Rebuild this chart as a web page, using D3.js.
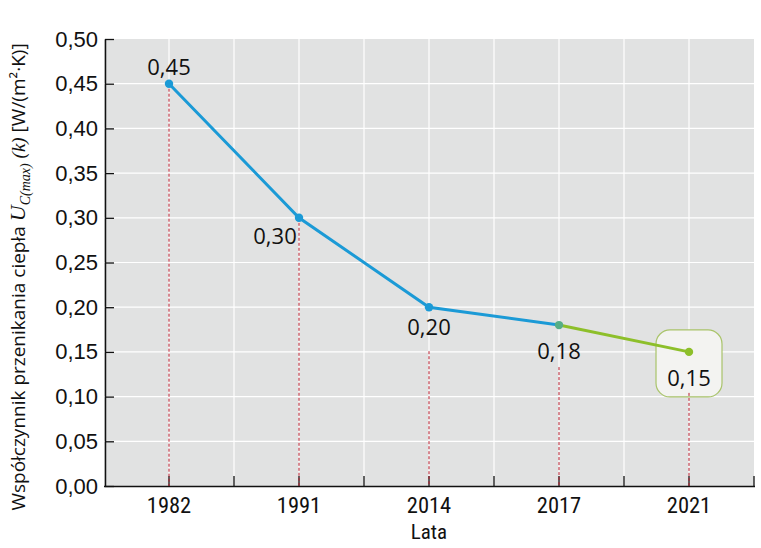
<!DOCTYPE html>
<html><head><meta charset="utf-8">
<script src="https://cdn.jsdelivr.net/npm/d3@7"></script>
<style>body{margin:0;background:#fff}</style>
</head><body>
<script>
const years = ["1982","1991","2014","2017","2021"];
const values = [0.45, 0.30, 0.20, 0.18, 0.15];
const historicYears = ["1982","1991","2014","2017"];
const historicValues = [0.45, 0.30, 0.20, 0.18];
const plannedYears = ["2017","2021"];
const plannedValues = [0.18, 0.15];
const yTickValues = [0,0.05,0.10,0.15,0.20,0.25,0.30,0.35,0.40,0.45,0.50];
const xTitle = "Lata";

const W = 761, H = 548;
const svg = d3.select("body").append("svg").attr("width", W).attr("height", H);
const x = d3.scaleBand().domain(years).range([104, 754]).paddingInner(0).paddingOuter(0);
const y = d3.scaleLinear().domain([0, 0.5]).range([486, 39]);
const fmt = v => d3.format(".2f")(v).replace(".", ",");
const cx = d => x(d) + x.bandwidth() / 2;

// background
svg.append("rect").attr("x", 104).attr("y", y(0.5)).attr("width", 754 - 104).attr("height", y(0) - y(0.5)).attr("fill", "#e1e2e2");

// grid
const vgrid = [];
years.forEach((d, i) => { vgrid.push(cx(d)); if (i > 0) vgrid.push(x(d)); });
svg.append("g").selectAll("line").data(vgrid).join("line")
  .attr("x1", d => d).attr("x2", d => d).attr("y1", y(0.5)).attr("y2", y(0))
  .attr("stroke", "#fff").attr("stroke-width", 1.2);
svg.append("g").selectAll("line").data(yTickValues.filter(v => v > 0 && v < 0.5)).join("line")
  .attr("x1", 104).attr("x2", 754).attr("y1", d => y(d)).attr("y2", d => y(d))
  .attr("stroke", "#fff").attr("stroke-width", 1.2);

// axes
const yAxis = d3.axisLeft(y).tickValues(yTickValues).tickFormat(fmt).tickSizeInner(-9).tickSizeOuter(0).tickPadding(7);
const gy = svg.append("g").attr("transform", "translate(105,0)").call(yAxis);
gy.select(".domain").attr("stroke", "#111").attr("stroke-width", 1.5);
gy.selectAll(".tick line").attr("stroke", "#111").attr("stroke-width", 1.3);
gy.selectAll("text").attr("font-family", "Liberation Sans, Arial, sans-serif").attr("font-size", 22).attr("fill", "#111");

const tickPos = [];
years.forEach((d, i) => { tickPos.push(x(d)); tickPos.push(cx(d)); });
tickPos.push(754);
const gx = svg.append("g");
gx.append("line").attr("x1", 104).attr("x2", 755).attr("y1", 486.5).attr("y2", 486.5).attr("stroke", "#111").attr("stroke-width", 1.5);
gx.selectAll("line.t").data(tickPos.slice(1)).join("line").attr("class", "t")
  .attr("x1", d => d).attr("x2", d => d).attr("y1", 486).attr("y2", 476)
  .attr("stroke", "#111").attr("stroke-width", 1.3);
gx.selectAll("text").data(years).join("text")
  .attr("x", d => cx(d)).attr("y", 513).attr("text-anchor", "middle")
  .attr("font-family", "Liberation Sans Narrow, Roboto Condensed, Liberation Sans, sans-serif")
  .attr("font-stretch", "condensed")
  .attr("font-size", 22.5).attr("fill", "#111").text(d => d);
svg.append("text").attr("x", 429).attr("y", 539).attr("text-anchor", "middle")
  .attr("font-family", "Liberation Sans Narrow, Roboto Condensed, Liberation Sans, sans-serif")
  .attr("font-stretch", "condensed")
  .attr("font-size", 21).attr("fill", "#111").text(xTitle);

// y title
const yt = svg.append("text").attr("transform", "translate(25,277) rotate(-90)")
  .attr("text-anchor", "middle").attr("font-family", "Open Sans, sans-serif").attr("font-size", 19).attr("fill", "#111");
yt.append("tspan").text("Współczynnik przenikania ciepła ");
yt.append("tspan").attr("font-family", "Liberation Serif, serif").attr("font-style", "italic").attr("font-size", 22).text("U");
yt.append("tspan").attr("font-family", "Liberation Serif, serif").attr("font-style", "italic").attr("font-size", 14).attr("dy", 5).text("C(max)");
yt.append("tspan").attr("dy", -5).text(" ");
yt.append("tspan").attr("font-family", "Liberation Serif, serif").attr("font-style", "italic").attr("font-size", 19).text("(k)");
yt.append("tspan").text(" [W/(m²·K)]");

// highlight box for last value
const lastYear = years[years.length - 1];
svg.append("rect").attr("x", cx(lastYear) - 33).attr("y", y(plannedValues[1]) - 22)
  .attr("width", 66).attr("height", 67).attr("rx", 14).attr("ry", 14)
  .attr("fill", "#f3f3f1").attr("stroke", "#a9c46a").attr("stroke-width", 1.2);

// dashed drop lines
const dropStart = [0, 0, 44, 42, 41];
svg.append("g").selectAll("line").data(years).join("line")
  .attr("x1", d => cx(d)).attr("x2", d => cx(d))
  .attr("y1", (d, i) => y(values[i]) + dropStart[i]).attr("y2", y(0))
  .attr("stroke", "#b81c2c").attr("stroke-width", 1).attr("stroke-dasharray", "3,2");

// lines
const line = d3.line().x(d => cx(d[0])).y(d => y(d[1]));
svg.append("path").datum(historicYears.map((d, i) => [d, historicValues[i]]))
  .attr("d", line).attr("fill", "none").attr("stroke", "#1b9ad6").attr("stroke-width", 3);
svg.append("path").datum(plannedYears.map((d, i) => [d, plannedValues[i]]))
  .attr("d", line).attr("fill", "none").attr("stroke", "#8dbf2a").attr("stroke-width", 3);

// points
svg.append("g").selectAll("circle").data(years).join("circle")
  .attr("cx", d => cx(d)).attr("cy", (d, i) => y(values[i])).attr("r", 4.2)
  .attr("fill", (d, i) => i < 3 ? "#1b9ad6" : (i === 3 ? "#56ae86" : "#8dbf2a"));

// value labels
const labOff = [[0, -9], [-24, 26], [0, 28], [0, 34], [0, 34]];
svg.append("g").selectAll("text").data(years).join("text")
  .attr("x", (d, i) => cx(d) + labOff[i][0]).attr("y", (d, i) => y(values[i]) + labOff[i][1])
  .attr("text-anchor", "middle").attr("font-family", "Open Sans, sans-serif").attr("font-size", 22)
  .attr("fill", "#111").text((d, i) => fmt(values[i]));
</script>
</body></html>
